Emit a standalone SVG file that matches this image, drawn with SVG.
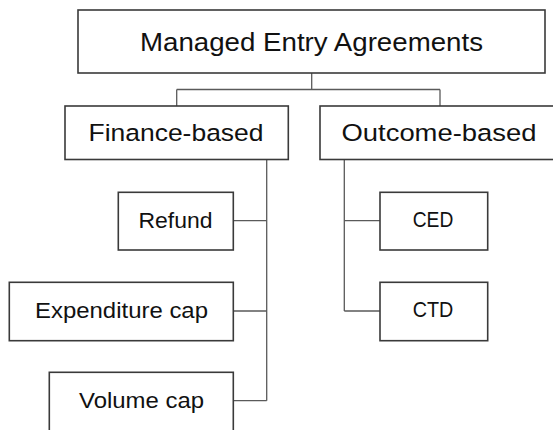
<svg xmlns="http://www.w3.org/2000/svg" width="553" height="430" viewBox="0 0 553 430">
  <style>
    .box { fill: #ffffff; stroke: #3a3a3a; stroke-width: 1.6; }
    .link { fill: none; stroke: #5a5a5a; stroke-width: 1.3; }
    .lbl { font-family: "Liberation Sans", Arial, sans-serif; fill: #111111; text-anchor: middle; }
    .lg { font-size: 25.6px; }
    .md { font-size: 24.3px; }
    .sm { font-size: 22.3px; }
  </style>
  <rect width="553" height="430" fill="#ffffff"/>

  <g id="connectors">
    <!-- root to the two categories -->
    <path class="link" d="M311.7 73 V89.5 M176.7 89.5 H440 M176.7 89.5 V106 M440 89.5 V106"/>
    <!-- finance-based branch -->
    <path class="link" d="M266.7 159.5 V400.7 M233.3 220.7 H266.7 M233.3 311 H266.7 M233.3 400.7 H266.7"/>
    <!-- outcome-based branch -->
    <path class="link" d="M344.3 159.5 V311 M344.3 220.7 H380 M344.3 311 H380"/>
  </g>

  <g id="node-mea">
    <rect class="box" x="78" y="10" width="467" height="63"/>
    <text class="lbl lg" x="311.5" y="50.5" textLength="343" lengthAdjust="spacingAndGlyphs">Managed Entry Agreements</text>
  </g>

  <g id="node-finance">
    <rect class="box" x="65" y="106" width="223.3" height="53.5"/>
    <text class="lbl md" x="176" y="140.7" textLength="175" lengthAdjust="spacingAndGlyphs">Finance-based</text>
  </g>

  <g id="node-outcome">
    <rect class="box" x="320" y="106" width="240" height="53.5"/>
    <text class="lbl md" x="439" y="140.7" textLength="195" lengthAdjust="spacingAndGlyphs">Outcome-based</text>
  </g>

  <g id="node-refund">
    <rect class="box" x="118.3" y="192.3" width="115" height="57.7"/>
    <text class="lbl sm" x="175.5" y="227.5" textLength="74" lengthAdjust="spacingAndGlyphs">Refund</text>
  </g>

  <g id="node-expenditure">
    <rect class="box" x="9.3" y="282.3" width="224" height="58.4"/>
    <text class="lbl sm" x="121.5" y="318" textLength="173" lengthAdjust="spacingAndGlyphs">Expenditure cap</text>
  </g>

  <g id="node-volume">
    <rect class="box" x="49.3" y="372.3" width="184" height="70"/>
    <text class="lbl sm" x="141.5" y="408" textLength="125" lengthAdjust="spacingAndGlyphs">Volume cap</text>
  </g>

  <g id="node-ced">
    <rect class="box" x="380" y="192.3" width="107.7" height="57.7"/>
    <text class="lbl sm" x="433" y="227.3" textLength="40.6" lengthAdjust="spacingAndGlyphs">CED</text>
  </g>

  <g id="node-ctd">
    <rect class="box" x="380" y="282.3" width="107.7" height="58.4"/>
    <text class="lbl sm" x="433" y="317.3" textLength="40.6" lengthAdjust="spacingAndGlyphs">CTD</text>
  </g>
</svg>
